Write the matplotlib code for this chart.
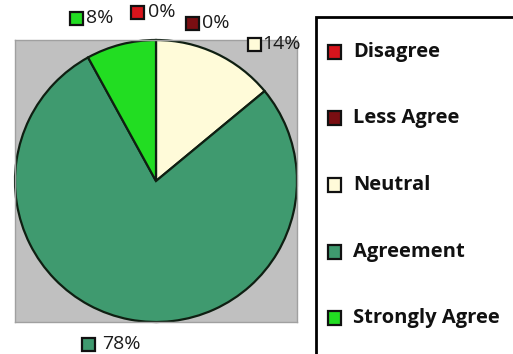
import matplotlib.pyplot as plt
from matplotlib.patches import Rectangle

categories = ['Disagree', 'Less Agree', 'Neutral', 'Agreement', 'Strongly Agree']
values = [0, 0, 14, 78, 8]
colors = ['#d8141c', '#7a0e12', '#fffbd9', '#3f9a6f', '#22dd22']

# label spots (figure pixels, from top-left): key box left, text left, centre y
label_pos = [(131, 148, 12), (186, 202, 23), (248, 262, 44), (82, 102, 344), (70, 86, 18)]

W, H = 513, 354
fig = plt.figure(figsize=(W / 100, H / 100), dpi=100)
plt.rcParams['font.family'] = ['Open Sans', 'DejaVu Sans']

ax = fig.add_axes([15 / W, (H - 322) / H, 282 / W, 282 / H])
wedges, _ = ax.pie(values, colors=colors, startangle=90, counterclock=False,
                   radius=1, center=(0, 0),
                   wedgeprops=dict(edgecolor='#0f1f12', linewidth=1.6))
ax.set_frame_on(True)
ax.set_facecolor('#c0c0c0')
ax.set_xlim(-1.0, 1.0)
ax.set_ylim(-1.0, 1.0)
ax.set_aspect('auto')
ax.set_xticks([])
ax.set_yticks([])
for s in ax.spines.values():
    s.set_color('#a0a0a0')
    s.set_linewidth(1)

# data labels with little colour keys
for v, c, (bx, tx, py) in zip(values, colors, label_pos):
    fig.patches.append(Rectangle((bx / W, (H - py - 7) / H), 13 / W, 13 / H,
                                 transform=fig.transFigure, facecolor=c,
                                 edgecolor='#111111', linewidth=1.6))
    fig.text(tx / W, (H - py) / H, f'{v}%', fontsize=14, va='center', ha='left',
             color='#1a1a1a')

# legend frame
fig.patches.append(Rectangle((316 / W, -10 / H), 220 / W, (H - 17 + 10) / H,
                             transform=fig.transFigure, facecolor='white',
                             edgecolor='black', linewidth=2))
row_y = [52, 118, 185, 252, 318]
for name, c, y in zip(categories, colors, row_y):
    fig.patches.append(Rectangle((328 / W, (H - y - 7) / H), 13 / W, 14 / H,
                                 transform=fig.transFigure, facecolor=c,
                                 edgecolor='#111111', linewidth=1.6))
    fig.text(353 / W, (H - y) / H, name, fontsize=14.5, fontweight='bold',
             va='center', ha='left', color='#111111')

fig.savefig('out.png', dpi=100)
